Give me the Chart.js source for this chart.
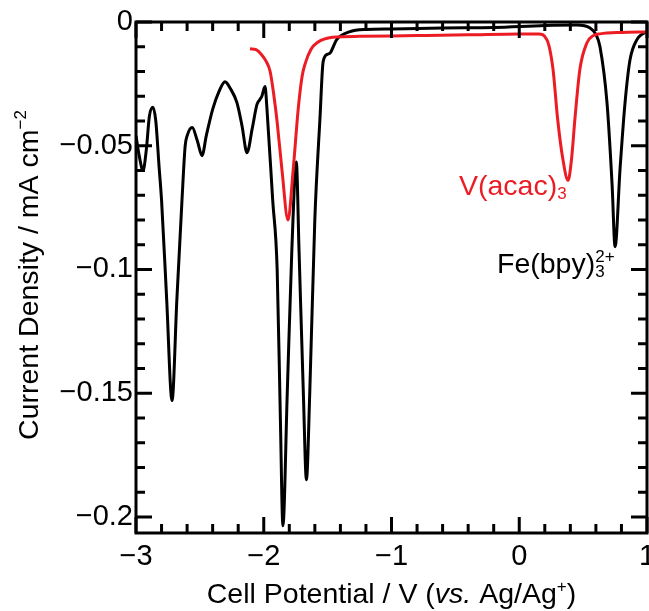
<!DOCTYPE html>
<html>
<head>
<meta charset="utf-8">
<script src="https://cdn.jsdelivr.net/npm/chart.js@4/dist/chart.umd.min.js"></script>
<style>
  html, body { margin: 0; padding: 0; background: #fff; }
  canvas { display: block; }
</style>
</head>
<body>
<canvas id="cv" width="649" height="611"></canvas>
<script>
// black trace (Fe(bpy)3 2+ plus the negative-side peaks)
const blackPotential = [-3.00, -2.975, -2.945, -2.92, -2.895, -2.867, -2.845, -2.82, -2.80, -2.76, -2.718, -2.68, -2.64,
  -2.615, -2.60, -2.56, -2.52, -2.483, -2.45, -2.40, -2.35, -2.303, -2.26, -2.21, -2.17, -2.131, -2.09, -2.053, -2.03,
  -2.015, -1.99, -1.975, -1.93, -1.895, -1.87, -1.85, -1.816, -1.78, -1.745, -1.724, -1.69, -1.666, -1.64, -1.60, -1.56,
  -1.535, -1.50, -1.48, -1.43, -1.33, -1.20, -1.00, -0.60, -0.20, 0.20, 0.45, 0.554, 0.60, 0.632, 0.687, 0.727, 0.75,
  0.789, 0.828, 0.867, 0.92, 0.96, 1.00];
const blackCurrent = [-0.046, -0.054, -0.060, -0.052, -0.038, -0.0345, -0.040, -0.058, -0.072, -0.112, -0.153, -0.112, -0.072,
  -0.050, -0.046, -0.0426, -0.048, -0.054, -0.046, -0.0353, -0.028, -0.0241, -0.027, -0.0326, -0.042, -0.0528, -0.043, -0.0333, -0.0313,
  -0.030, -0.0261, -0.035, -0.072, -0.100, -0.160, -0.2036, -0.150, -0.092, -0.0566, -0.092, -0.150, -0.185, -0.150, -0.0795, -0.039,
  -0.016, -0.013, -0.0125, -0.0072, -0.004, -0.0030, -0.0028, -0.0024, -0.0022, -0.0014, -0.0012, -0.0024, -0.005, -0.010, -0.0327, -0.066, -0.0908,
  -0.0594, -0.0327, -0.0153, -0.0072, -0.0050, -0.0040];

// red trace, V(acac)3
const redPotential = [-2.108, -2.06, -2.02, -1.98, -1.95, -1.92, -1.896, -1.857, -1.81, -1.77, -1.73, -1.70, -1.677, -1.63,
  -1.583, -1.46, -1.25, -0.80, -0.40, 0.00, 0.15, 0.217, 0.264, 0.30, 0.34, 0.382, 0.41, 0.436, 0.475, 0.53, 0.58, 0.632, 0.80, 1.00];
const redCurrent = [-0.0108, -0.0112, -0.013, -0.016, -0.020, -0.030, -0.040, -0.060, -0.080, -0.060, -0.035, -0.022, -0.017, -0.011,
  -0.0084, -0.0062, -0.0058, -0.0055, -0.0052, -0.0048, -0.0048, -0.0072, -0.019, -0.039, -0.055, -0.064, -0.055, -0.039, -0.019, -0.0084, -0.0055, -0.0048, -0.0042, -0.0040];

const xTicks = [-3, -2, -1, 0, 1];
const xTickLabels = ['\u22123', '\u22122', '\u22121', '0', '1'];
const yTicks = [0, -0.05, -0.1, -0.15, -0.2];
const yTickLabels = ['0', '\u22120.05', '\u22120.1', '\u22120.15', '\u22120.2'];

const FONT = '"Liberation Sans", Arial, sans-serif';
const FS = 28.5;
const TICK_FS = 29;
const RED = 'rgb(236, 28, 36)';

const toPoints = (xs, ys) => xs.map((x, i) => ({ x, y: ys[i] }));

function fontStr(size, italic) {
  return (italic ? 'italic ' : '') + size + 'px ' + FONT;
}

// draws a list of text runs; runs may be raised/lowered and stacked
function drawRuns(ctx, x, y, runs, align) {
  let w = 0;
  runs.forEach(r => {
    ctx.font = fontStr(r.size || FS, r.italic);
    r.w = ctx.measureText(r.text).width;
    if (!r.stack) w += r.w;
  });
  let cx = align === 'center' ? x - w / 2 : x;
  let last = 0;
  runs.forEach(r => {
    ctx.font = fontStr(r.size || FS, r.italic);
    ctx.fillStyle = r.color || '#000';
    if (r.stack) {
      ctx.fillText(r.text, cx - last, y + (r.dy || 0));
    } else {
      ctx.fillText(r.text, cx, y + (r.dy || 0));
      cx += r.w;
      last = r.w;
    }
  });
}

const frameTicks = {
  id: 'frameTicks',
  afterDatasetsDraw(chart) {
    const { ctx, chartArea: a, scales: { x, y } } = chart;
    ctx.save();
    ctx.strokeStyle = '#000';
    ctx.lineWidth = 3;
    ctx.beginPath();
    for (let i = -15; i <= 5; i++) {
      const px = x.getPixelForValue(i / 5);
      const len = i % 5 === 0 ? 16 : 9;
      ctx.moveTo(px, a.bottom); ctx.lineTo(px, a.bottom - len);
      ctx.moveTo(px, a.top); ctx.lineTo(px, a.top + len);
    }
    for (let j = -20; j <= 0; j++) {
      const py = y.getPixelForValue(j / 100);
      const len = j % 5 === 0 ? 16 : 9;
      ctx.moveTo(a.left, py); ctx.lineTo(a.left + len, py);
      ctx.moveTo(a.right, py); ctx.lineTo(a.right - len, py);
    }
    ctx.stroke();
    ctx.strokeRect(a.left, a.top, a.right - a.left, a.bottom - a.top);
    ctx.restore();
  },
  afterDraw(chart) {
    const { ctx, chartArea: a } = chart;
    ctx.save();
    ctx.textBaseline = 'alphabetic';
    // x title
    drawRuns(ctx, (a.left + a.right) / 2, 603, [
      { text: 'Cell Potential / V (' },
      { text: 'vs.', italic: true },
      { text: ' Ag/Ag' },
      { text: '+', size: 17, dy: -11 },
      { text: ')' }
    ], 'center');
    // y title
    ctx.translate(38, 275);
    ctx.rotate(-Math.PI / 2);
    drawRuns(ctx, 0, 0, [
      { text: 'Current Density / mA cm' },
      { text: '\u22122', size: 17, dy: -12 }
    ], 'center');
    ctx.restore();

    ctx.save();
    drawRuns(ctx, 459, 195, [
      { text: 'V(acac)', color: RED },
      { text: '3', size: 17, dy: 4, color: RED }
    ], 'left');
    drawRuns(ctx, 497, 273, [
      { text: 'Fe(bpy)' },
      { text: '3', size: 17, dy: 4 },
      { text: '2+', size: 17, dy: -11, stack: true }
    ], 'left');
    ctx.restore();
  }
};

new Chart(document.getElementById('cv').getContext('2d'), {
  type: 'line',
  data: {
    datasets: [{
      label: 'V(acac)3',
      data: toPoints(redPotential, redCurrent),
      borderColor: RED,
      borderWidth: 3,
      pointRadius: 0,
      cubicInterpolationMode: 'monotone'
    }, {
      label: 'Fe(bpy)3 2+',
      data: toPoints(blackPotential, blackCurrent),
      borderColor: '#000',
      borderWidth: 3,
      pointRadius: 0,
      cubicInterpolationMode: 'monotone'
    }]
  },
  options: {
    responsive: false,
    animation: false,
    layout: { padding: { top: 22, right: 2, left: 0, bottom: 0 } },
    plugins: { legend: { display: false }, tooltip: { enabled: false } },
    scales: {
      x: {
        type: 'linear',
        min: -3,
        max: 1,
        grid: { display: false, drawTicks: false },
        border: { display: false },
        afterBuildTicks: s => { s.ticks = xTicks.map(v => ({ value: v })); },
        afterFit: s => { s.height = 78; s.paddingLeft = 0; s.paddingRight = 0; },
        ticks: {
          padding: 7,
          color: '#000',
          font: { family: FONT, size: TICK_FS },
          callback: (v, i) => xTickLabels[i]
        }
      },
      y: {
        type: 'linear',
        min: -0.2065,
        max: 0,
        grid: { display: false, drawTicks: false },
        border: { display: false },
        afterBuildTicks: s => { s.ticks = yTicks.map(v => ({ value: v })); },
        afterFit: s => { s.width = 136; s.paddingTop = 0; s.paddingBottom = 0; },
        ticks: {
          padding: 3,
          color: '#000',
          font: { family: FONT, size: TICK_FS },
          callback: (v, i) => yTickLabels[i]
        }
      }
    }
  },
  plugins: [frameTicks]
});
</script>
</body>
</html>
